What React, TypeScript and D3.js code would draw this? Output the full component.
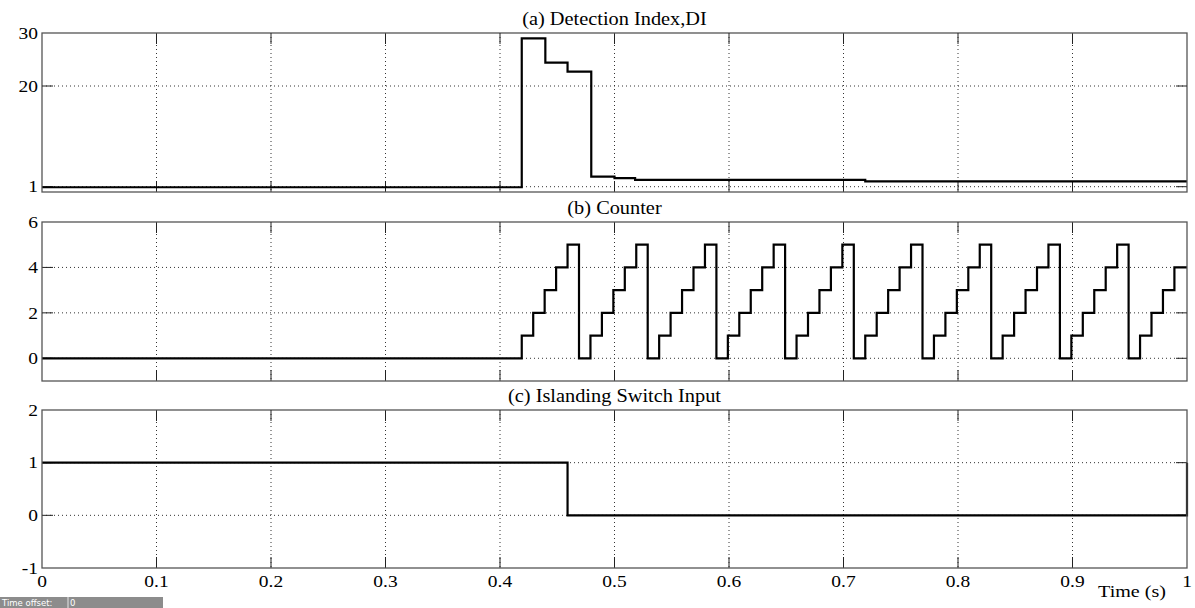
import React from "react";
import * as d3 from "d3";

// ---- Data ----
const xTicks = [0, 0.1, 0.2, 0.3, 0.4, 0.5, 0.6, 0.7, 0.8, 0.9, 1];
const xTickLabels = ["0", "0.1", "0.2", "0.3", "0.4", "0.5", "0.6", "0.7", "0.8", "0.9", "1"];

const panelTitles = ["(a) Detection Index,DI", "(b) Counter", "(c) Islanding Switch Input"];

const diTicks = [1, 20, 30];
const counterTicks = [0, 2, 4, 6];
const switchTicks = [-1, 0, 1, 2];

// Detection index, step-after samples [time (s), DI]
const diSeries: [number, number][] = [
  [0, 0.9],
  [0.419, 29],
  [0.4396, 24.4],
  [0.459, 22.7],
  [0.4797, 2.9],
  [0.5, 2.6],
  [0.518, 2.3],
  [0.719, 2.0],
  [1, 2.0],
];

// Counter, step-after samples [time (s), count]
const counterSeries: [number, number][] = [
  [0, 0],
  [0.419, 1], [0.429, 2], [0.439, 3], [0.449, 4], [0.459, 5], [0.469, 0],
  [0.479, 1], [0.489, 2], [0.499, 3], [0.509, 4], [0.519, 5], [0.529, 0],
  [0.539, 1], [0.549, 2], [0.559, 3], [0.569, 4], [0.579, 5], [0.589, 0],
  [0.599, 1], [0.609, 2], [0.619, 3], [0.629, 4], [0.639, 5], [0.649, 0],
  [0.659, 1], [0.669, 2], [0.679, 3], [0.689, 4], [0.699, 5], [0.709, 0],
  [0.719, 1], [0.729, 2], [0.739, 3], [0.749, 4], [0.759, 5], [0.769, 0],
  [0.779, 1], [0.789, 2], [0.799, 3], [0.809, 4], [0.819, 5], [0.829, 0],
  [0.839, 1], [0.849, 2], [0.859, 3], [0.869, 4], [0.879, 5], [0.889, 0],
  [0.899, 1], [0.909, 2], [0.919, 3], [0.929, 4], [0.939, 5], [0.949, 0],
  [0.959, 1], [0.969, 2], [0.979, 3], [0.989, 4], [1, 4],
];

// Islanding switch input, step-after samples [time (s), state]
const switchSeries: [number, number][] = [
  [0, 1],
  [0.459, 0],
  [1, 1],
];

// ---- Layout ----
const W = 1195;
const H = 608;
const X0 = 42;
const X1 = 1187;
const TICK = 11;
const FONT = "'Liberation Serif', 'Times New Roman', serif";
const STRETCH = 1.18;

type PanelDef = {
  title: string;
  top: number;
  bottom: number;
  domain: [number, number];
  ticks: number[];
  data: [number, number][];
};

const panels: PanelDef[] = [
  { title: panelTitles[0], top: 33, bottom: 192, domain: [0, 30], ticks: diTicks, data: diSeries },
  { title: panelTitles[1], top: 222, bottom: 381, domain: [-1, 6], ticks: counterTicks, data: counterSeries },
  { title: panelTitles[2], top: 410, bottom: 568, domain: [-1, 2], ticks: switchTicks, data: switchSeries },
];

const x = d3.scaleLinear().domain([0, 1]).range([X0, X1]);

function Label({ x: lx, y: ly, anchor, size, children, dy }: any) {
  return (
    <g transform={`translate(${lx},${ly}) scale(${STRETCH},1)`}>
      <text x={0} y={0} dy={dy} textAnchor={anchor} fontFamily={FONT} fontSize={size} fill="#000">
        {children}
      </text>
    </g>
  );
}

function Panel({ p, showX }: { p: PanelDef; showX: boolean }) {
  const y = d3.scaleLinear().domain(p.domain).range([p.bottom, p.top]);
  const line = d3
    .line<[number, number]>()
    .x((d) => x(d[0]))
    .y((d) => y(d[1]))
    .curve(d3.curveStepAfter);
  const innerX = xTicks.filter((t) => t > 0 && t < 1);
  const innerY = p.ticks.filter((t) => t > p.domain[0] && t < p.domain[1]);
  return (
    <g>
      <rect x={X0} y={p.top} width={X1 - X0} height={p.bottom - p.top} fill="#fff" />
      {/* grid */}
      {innerX.map((t) => (
        <line key={"gx" + t} x1={x(t)} x2={x(t)} y1={p.top} y2={p.bottom}
          stroke="#333" strokeWidth={1} strokeDasharray="1,3" />
      ))}
      {innerY.map((t) => (
        <line key={"gy" + t} x1={X0} x2={X1} y1={y(t)} y2={y(t)}
          stroke="#333" strokeWidth={1} strokeDasharray="1,3" />
      ))}
      {/* ticks */}
      {innerX.map((t) => (
        <g key={"tx" + t}>
          <line x1={x(t)} x2={x(t)} y1={p.top} y2={p.top + TICK} stroke="#222" strokeWidth={1} />
          <line x1={x(t)} x2={x(t)} y1={p.bottom} y2={p.bottom - TICK} stroke="#222" strokeWidth={1} />
        </g>
      ))}
      {innerY.map((t) => (
        <g key={"ty" + t}>
          <line x1={X0} x2={X0 + TICK} y1={y(t)} y2={y(t)} stroke="#222" strokeWidth={1} />
          <line x1={X1} x2={X1 - TICK} y1={y(t)} y2={y(t)} stroke="#222" strokeWidth={1} />
        </g>
      ))}
      {/* data */}
      <path d={line(p.data) || ""} fill="none" stroke="#000" strokeWidth={2.2} strokeLinejoin="miter" />
      {/* border */}
      <rect x={X0} y={p.top} width={X1 - X0} height={p.bottom - p.top} fill="none" stroke="#555" strokeWidth={1.3} />
      {/* y labels */}
      {p.ticks.map((t) => (
        <Label key={"ly" + t} x={38} y={y(t)} dy="0.35em" anchor="end" size={16.5}>{String(t)}</Label>
      ))}
      {/* title */}
      <text x={(X0 + X1) / 2} y={p.top - 8} textAnchor="middle" fontFamily={FONT} fontSize={18.5} fill="#000"
        transform={`translate(${(X0 + X1) / 2},0) scale(1.1,1) translate(${-(X0 + X1) / 2},0)`}>
        {p.title}
      </text>
      {showX &&
        xTicks.map((t, i) => (
          <Label key={"lx" + t} x={x(t)} y={587} anchor="middle" size={16.5}>{xTickLabels[i]}</Label>
        ))}
    </g>
  );
}

export default function App() {
  return (
    <svg width={W} height={H} style={{ position: "absolute", left: 0, top: 0, background: "#fff" }}>
      <rect x={0} y={0} width={W} height={H} fill="#fff" />
      {panels.map((p, i) => (
        <Panel key={i} p={p} showX={i === panels.length - 1} />
      ))}
      <Label x={1132} y={597} anchor="middle" size={17}>Time (s)</Label>
      <rect x={0} y={597} width={163} height={11} fill="#8c8c8c" />
      <line x1={68} x2={68} y1={597} y2={608} stroke="#e6e6e6" strokeWidth={1} />
      <text x={2} y={606} fontFamily="'DejaVu Sans', sans-serif" fontSize={8.5} fill="#fff">Time offset:</text>
      <text x={70} y={606} fontFamily="'DejaVu Sans', sans-serif" fontSize={8.5} fill="#fff">0</text>
    </svg>
  );
}
